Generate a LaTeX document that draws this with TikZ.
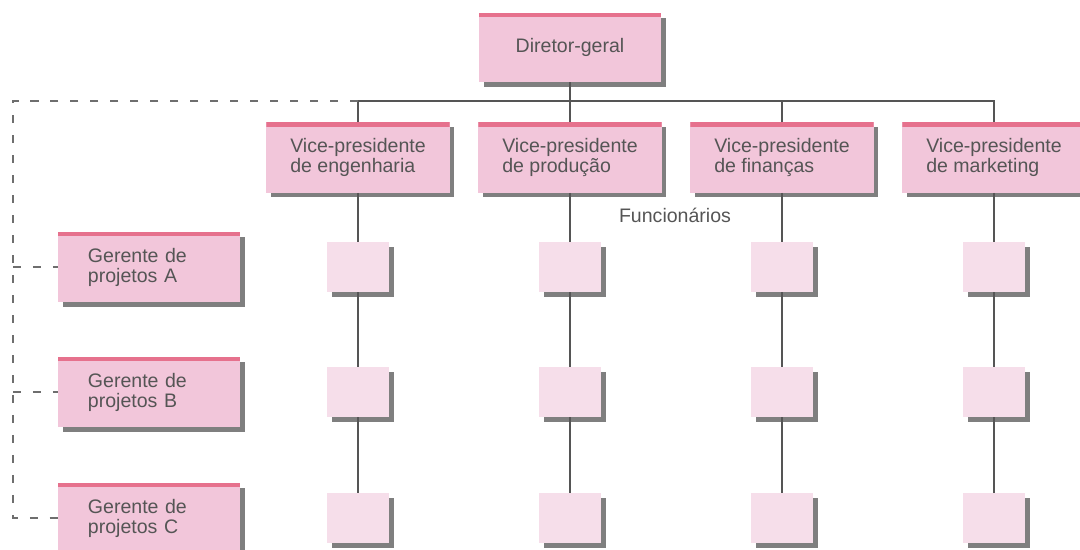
\documentclass[tikz,border=0pt]{standalone}
\usepackage{fontspec}
\setmainfont{Liberation Sans}
\usetikzlibrary{shadows}
\definecolor{boxpink}{HTML}{F2C6DA}
\definecolor{lightpink}{HTML}{F6DEEA}
\definecolor{stripe}{HTML}{E6718D}
\definecolor{txtgray}{HTML}{555555}
\definecolor{linegray}{HTML}{555555}

\begin{document}
\begin{tikzpicture}[x=0.025cm,y=-0.025cm,
    font=\fontsize{13.9}{14.2}\selectfont,
    shade/.style={drop shadow={shadow xshift=3.5pt,shadow yshift=-3.5pt,fill=black,opacity=.5}},
    cargo/.style={shade,fill=boxpink,text=txtgray,minimum width=4.575cm,minimum height=1.75cm,align=left,
      path picture={\fill[stripe] (path picture bounding box.north west) rectangle ([yshift=-3pt]path picture bounding box.north east);}},
    gerente/.style={cargo,minimum width=4.55cm,text width=3.05cm,inner xsep=0.75cm},
    func/.style={shade,fill=lightpink,minimum width=1.55cm,minimum height=1.25cm},
    conn/.style={draw=linegray,line width=2pt},
    proj/.style={draw=linegray!85,line width=2pt,dash pattern=on 5.7pt off 8.5pt}]
  \useasboundingbox (0,0) rectangle (1080,550);
  \node[cargo,minimum width=4.55cm,minimum height=1.725cm,align=center] (dg) at (570,47.5) {Diretor-geral};
  \foreach \i/\x/\t in {1/358/engenharia,2/570/produção,3/782/finanças,4/994/marketing}
    \node[cargo] (vp\i) at (\x,157.5) {Vice-presidente\\de \t};
  \node[text=txtgray] (fn) at (675,215) {Funcionários};
  \foreach \g/\y in {A/267,B/392,C/518}
    \node[gerente] (g\g) at (149,\y) {Gerente de\\projetos \g};
  \foreach \i/\x in {1/358,2/570,3/782,4/994}{
    \foreach \j/\y in {1/267,2/392,3/518}
      \node[func] (f\i\j) at (\x,\y) {};
    \draw[conn] (vp\i) -- (f\i1) -- (f\i2) -- (f\i3);
  }
  \coordinate (bus) at (570,101);
  \coordinate (corner) at (13,101);
  \draw[conn] (dg) -- (bus);
  \draw[conn] (vp1.north) |- (bus) -| (vp4.north);
  \draw[conn] (vp2) -- (bus);
  \draw[conn] (vp3.north) -- (vp3.north |- bus);
  \draw[proj] (vp1.north |- bus) -- (corner) |- (gC.west);
  \foreach \g in {A,B}
    \draw[proj] (corner |- g\g.west) -- (g\g.west);
\end{tikzpicture}
\end{document}
